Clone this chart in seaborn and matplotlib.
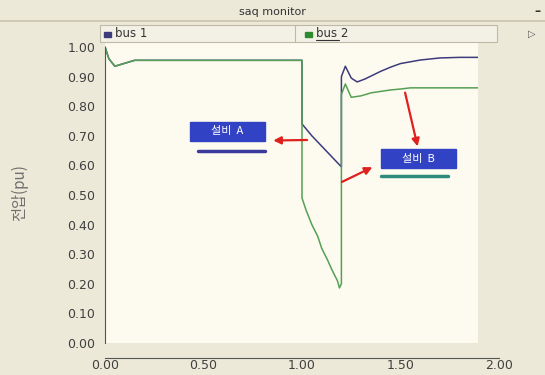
import matplotlib
matplotlib.use("Agg")
import matplotlib.pyplot as plt
import seaborn as sns
from matplotlib.patches import Rectangle
from matplotlib.lines import Line2D

# ── Data ──────────────────────────────────────────────────────────────────────
time_bus1 = [0.00, 0.02, 0.05, 0.10, 0.15, 1.00, 1.00, 1.05, 1.10, 1.15, 1.20,
             1.20, 1.22, 1.25, 1.28, 1.32, 1.36, 1.40, 1.45, 1.50, 1.60, 1.70,
             1.80, 2.00]
volt_bus1 = [1.00, 0.96, 0.935, 0.945, 0.955, 0.955, 0.74, 0.70, 0.665, 0.63, 0.595,
             0.90, 0.935, 0.895, 0.882, 0.892, 0.905, 0.918, 0.932, 0.944, 0.956, 0.963,
             0.965, 0.965]

time_bus2 = [0.00, 0.02, 0.05, 0.10, 0.15, 1.00, 1.00, 1.02, 1.05, 1.08, 1.10,
             1.13, 1.15, 1.18, 1.19, 1.20, 1.20, 1.22, 1.25, 1.30, 1.35, 1.40,
             1.45, 1.50, 1.55, 2.00]
volt_bus2 = [1.00, 0.96, 0.935, 0.945, 0.955, 0.955, 0.49, 0.45, 0.40, 0.36, 0.32,
             0.28, 0.25, 0.21, 0.186, 0.20, 0.84, 0.875, 0.83, 0.835, 0.845, 0.85,
             0.855, 0.858, 0.862, 0.862]

series_names = ["bus 1", "bus 2"]
y_ticks = [0.0, 0.1, 0.2, 0.3, 0.4, 0.5, 0.6, 0.7, 0.8, 0.9, 1.0]
x_ticks = [0.0, 0.5, 1.0, 1.5, 2.0]
x_tick_labels = ["0.00", "0.50", "1.00", "1.50", "2.00"]
y_label = "전압(pu)"
title = "saq monitor"

# ── Style ─────────────────────────────────────────────────────────────────────
sns.set_style("white")
plt.rcParams["font.family"] = ["DejaVu Sans", "Noto Sans CJK KR"]
KR = ["Noto Sans CJK KR", "DejaVu Sans"]

BG      = "#ECE9D8"
CREAM   = "#FDFBEF"
NAVY    = "#3D3B7C"
GREEN   = "#55A055"
TXT     = "#404040"
RED     = "#E0201E"
BOXBLUE = "#3242C4"

W, H = 545, 375
fx = lambda px: px / W
fy = lambda py: 1 - py / H

fig = plt.figure(figsize=(W / 100, H / 100), dpi=100)
fig.patch.set_facecolor(BG)

# ── Main plot area ────────────────────────────────────────────────────────────
ax = fig.add_axes([fx(105), fy(343), (478 - 105) / W, (343 - 42) / H])
ax.set_facecolor(CREAM)
sns.lineplot(x=time_bus1, y=volt_bus1, ax=ax, color=NAVY, lw=1.1,
             estimator=None, sort=False)
sns.lineplot(x=time_bus2, y=volt_bus2, ax=ax, color=GREEN, lw=1.1,
             estimator=None, sort=False)
ax.set_xlim(0, (478 - 105) / 197)
ax.set_ylim(0, 1 + 5 / 296)
ax.set_xticks([])
ax.set_yticks(y_ticks)
ax.set_yticklabels([f"{v:.2f}" for v in y_ticks], fontsize=9, color=TXT)
ax.tick_params(axis="y", direction="out", length=4, width=1, color="#555555", pad=3)
for s in ["top", "right", "bottom"]:
    ax.spines[s].set_visible(False)
ax.spines["left"].set_color("#555555")
ax.spines["left"].set_bounds(0, 1)
ax.set_ylabel(y_label, family=KR, fontsize=11, color="#707070", labelpad=28)

# annotations
ax.add_patch(Rectangle((0.43, 0.682), 0.38, 0.065, color=BOXBLUE, zorder=5))
ax.text(0.62, 0.715, "설비  A", family=KR, fontsize=8, color="white",
        ha="center", va="center", zorder=6)
ax.plot([0.47, 0.81], [0.649, 0.649], color="#3A3A9E", lw=2.5, zorder=5)
ax.add_patch(Rectangle((1.40, 0.591), 0.38, 0.064, color=BOXBLUE, zorder=5))
ax.text(1.59, 0.623, "설비  B", family=KR, fontsize=8, color="white",
        ha="center", va="center", zorder=6)
ax.plot([1.40, 1.74], [0.564, 0.564], color="#2E8A7C", lw=2.5, zorder=5)

arrow = dict(arrowstyle="-|>", color=RED, lw=1.6, mutation_scale=11)
ax.annotate("", xy=(0.84, 0.684), xytext=(1.04, 0.686), arrowprops=arrow, zorder=7)
ax.annotate("", xy=(1.59, 0.655), xytext=(1.52, 0.855), arrowprops=arrow, zorder=7)
ax.annotate("", xy=(1.37, 0.598), xytext=(1.19, 0.54), arrowprops=arrow, zorder=7)

# ── Separate time axis below the plot ─────────────────────────────────────────
ax2 = fig.add_axes([fx(105), fy(358), 394 / W, 0.0001])
ax2.set_facecolor("none")
ax2.set_xlim(0, 2)
ax2.set_yticks([])
for s in ["top", "right", "left"]:
    ax2.spines[s].set_visible(False)
ax2.spines["bottom"].set_color("#555555")
ax2.set_xticks(x_ticks)
ax2.set_xticklabels(x_tick_labels, fontsize=9, color=TXT)
ax2.set_xticks([0.25, 0.75, 1.25, 1.75], minor=True)
ax2.tick_params(axis="x", which="major", direction="in", length=4, color="#555555", pad=1)
ax2.tick_params(axis="x", which="minor", direction="out", length=3, color="#555555")

# ── Window chrome: title bar and legend bar ───────────────────────────────────
fig.text(fx(272), fy(12), title, fontsize=8, color="#333333", ha="center", va="center")
fig.text(fx(537), fy(12), "–", fontsize=9, color="#333333", ha="center", va="center",
         weight="bold")
fig.add_artist(Line2D([0, 1], [fy(21), fy(21)], color="#C8C4B0", lw=1.2))
fig.add_artist(Rectangle((fx(100), fy(42)), (497 - 100) / W, 17 / H,
                         facecolor="#F3F1E6", edgecolor="#BDB9A6", lw=0.8))
fig.add_artist(Line2D([fx(295), fx(295)], [fy(42), fy(25)], color="#BDB9A6", lw=0.8))
leg_colors = [NAVY, "#2E8B2E"]
leg_x = [104, 305]
for name, c, x0 in zip(series_names, leg_colors, leg_x):
    fig.add_artist(Rectangle((fx(x0), fy(37)), 7 / W, 5 / H, color=c))
    fig.text(fx(x0 + 11), fy(33.5), name, fontsize=8.5, color="#333333", va="center")
fig.add_artist(Line2D([fx(316), fx(339)], [fy(40), fy(40)], color="#333333", lw=0.8))
fig.text(fx(532), fy(34), "▷", fontsize=7, color="#555555", ha="center", va="center")

fig.savefig("out.png", dpi=100, facecolor=BG)
